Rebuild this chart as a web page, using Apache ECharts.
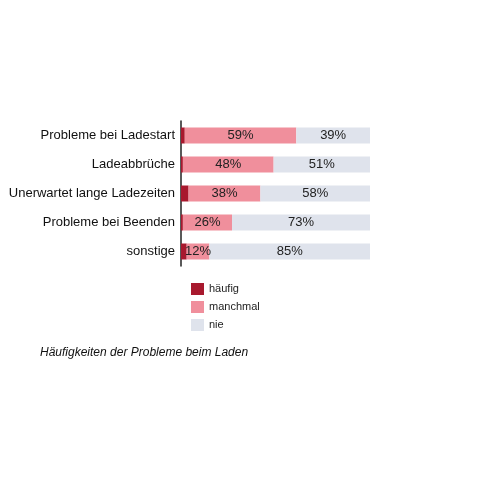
<!DOCTYPE html><html><head><meta charset="utf-8"><script src="https://cdn.jsdelivr.net/npm/echarts@6/dist/echarts.min.js"></script></head><body style="margin:0"><div id="c" style="width:480px;height:480px"></div><script>
const categories=["Probleme bei Ladestart","Ladeabbrüche","Unerwartet lange Ladezeiten","Probleme bei Beenden","sonstige"];
const haeufig=[2,1,4,1,3];
const manchmal=[59,48,38,26,12];
const nie=[39,51,58,73,85];
const names=["häufig","manchmal","nie"];
const colors=["#a8192e","#f08f9c","#dfe3ec"];
const ch=echarts.init(document.getElementById('c'));
const lbl={show:true,position:'inside',formatter:p=>p.value+'%',color:'#222',fontSize:13,fontFamily:'Liberation Sans'};
ch.setOption({animation:false,
grid:{left:181,right:110,top:121,bottom:214},
xAxis:{type:'value',min:0,max:100,show:false},
yAxis:{type:'category',data:categories,inverse:true,axisTick:{show:false},axisLine:{lineStyle:{color:'#222',width:1.5}},axisLabel:{color:'#111',fontSize:13,fontFamily:'Liberation Sans',margin:6}},
legend:{orient:'vertical',left:186,top:278,itemWidth:13,itemHeight:12,itemGap:6,icon:'rect',textStyle:{color:'#222',fontSize:11,fontFamily:'Liberation Sans'},data:names},
title:{text:'Häufigkeiten der Probleme beim Laden',left:35,top:342,textStyle:{fontStyle:'italic',fontWeight:'normal',fontSize:12,color:'#111',fontFamily:'Liberation Sans'}},
series:[
{name:names[0],type:'bar',stack:'a',data:haeufig,barWidth:16,itemStyle:{color:colors[0]}},
{name:names[1],type:'bar',stack:'a',data:manchmal,barWidth:16,itemStyle:{color:colors[1]},label:lbl},
{name:names[2],type:'bar',stack:'a',data:nie,barWidth:16,itemStyle:{color:colors[2]},label:lbl}]});
</script></body></html>
